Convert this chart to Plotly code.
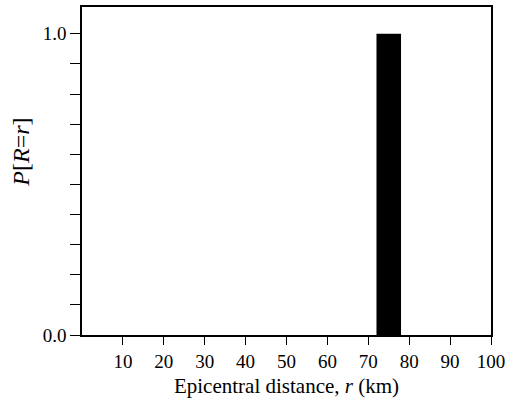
import plotly.graph_objects as go

distances = [75]
probs = [1.0]
bar_width = [6]
x_ticks = [10, 20, 30, 40, 50, 60, 70, 80, 90, 100]
y_ticks = [round(i * 0.1, 1) for i in range(11)]
y_labels = ["0.0"] + [""] * 9 + ["1.0"]

fig = go.Figure()
fig.add_trace(go.Bar(x=distances, y=probs, width=bar_width,
                     marker=dict(color="black", line=dict(width=0))))

fam = "Liberation Serif, Times New Roman, serif"
font = dict(family=fam, size=19, color="black")
fig.update_layout(
    width=510, height=409,
    margin=dict(l=82, r=15, t=5, b=74),
    paper_bgcolor="white", plot_bgcolor="white",
    font=font, showlegend=False,
    xaxis=dict(range=[0, 100], tickvals=x_ticks, ticks="outside", ticklen=8,
               tickcolor="black", showline=True, linecolor="black", linewidth=1.5,
               mirror=True, showgrid=False, zeroline=False, ticklabelstandoff=0,
               tickfont=dict(family=fam, size=19, color="black"),
               title=dict(text="Epicentral distance, <i>r</i> (km)", standoff=8,
                          font=dict(family=fam, size=21, color="black"))),
    yaxis=dict(range=[0, 1.089], tickvals=y_ticks, ticktext=y_labels,
               ticks="outside", ticklen=10, tickcolor="black",
               showline=True, linecolor="black", linewidth=1.5, mirror=True,
               showgrid=False, zeroline=False,
               tickfont=dict(family=fam, size=19, color="black")),
    annotations=[dict(text="<i>P</i>[<i>R</i>=<i>r</i>]", textangle=-90,
                      xref="paper", yref="paper", x=-0.150, y=0.558,
                      xanchor="center", yanchor="middle", showarrow=False,
                      font=dict(family=fam, size=24, color="black"))],
)
fig.write_html("out.html")
